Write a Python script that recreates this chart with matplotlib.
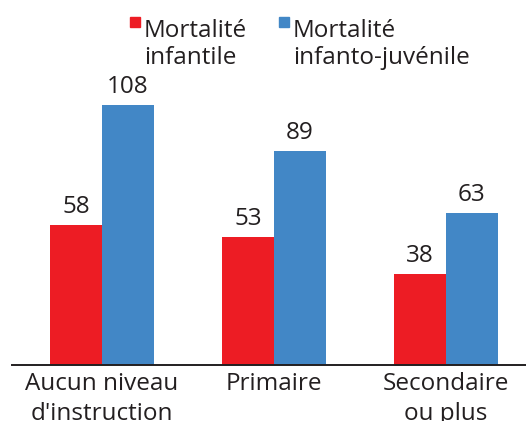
import matplotlib.pyplot as plt
import numpy as np
from matplotlib.patches import Rectangle

#%% Data
categories = ["Aucun niveau\nd'instruction", "Primaire", "Secondaire\nou plus"]
series_names = ["Mortalité\ninfantile", "Mortalité\ninfanto-juvénile"]
infantile = [58, 53, 38]
infanto_juvenile = [108, 89, 63]
colors = ["#ED1C24", "#4287C6"]

plt.rcParams['font.family'] = ['Open Sans', 'DejaVu Sans']
fs = 17.5

#%% Figure
fig = plt.figure(figsize=(5.26, 4.21), dpi=100)
ax = fig.add_axes([12 / 526, 56 / 421, 514 / 526, 260 / 421])

x = np.arange(len(categories))
w = 0.302
for vals, col, off in [(infantile, colors[0], -w / 2), (infanto_juvenile, colors[1], w / 2)]:
    bars = ax.bar(x + off, vals, width=w, color=col)
    for b, v in zip(bars, vals):
        ax.text(b.get_x() + b.get_width() / 2, v + 2.5, str(v), ha='center', va='bottom',
                fontsize=fs, color='#231F20', clip_on=False)

ax.set_xlim(-0.523, 2.465)
ax.set_ylim(0, 108)
ax.set_xticks(x)
ax.set_xticklabels(categories, fontsize=fs, color='#231F20', linespacing=1.32)
ax.tick_params(axis='x', length=0, pad=5)
ax.set_yticks([])
for s in ['left', 'right', 'top']:
    ax.spines[s].set_visible(False)
ax.spines['bottom'].set_linewidth(1.4)
ax.spines['bottom'].set_color('#231F20')

#%% Legend (manual)
leg_x = [130, 279]
for name, col, lx in zip(series_names, colors, leg_x):
    fig.patches.append(Rectangle((lx / 526, 1 - 27 / 421), 10 / 526, 10 / 421,
                                 transform=fig.transFigure, color=col))
    fig.text((lx + 14) / 526, 1 - 19 / 421, name, fontsize=fs, color='#231F20',
             ha='left', va='top', linespacing=1.17)

fig.savefig("out.png", dpi=100)
